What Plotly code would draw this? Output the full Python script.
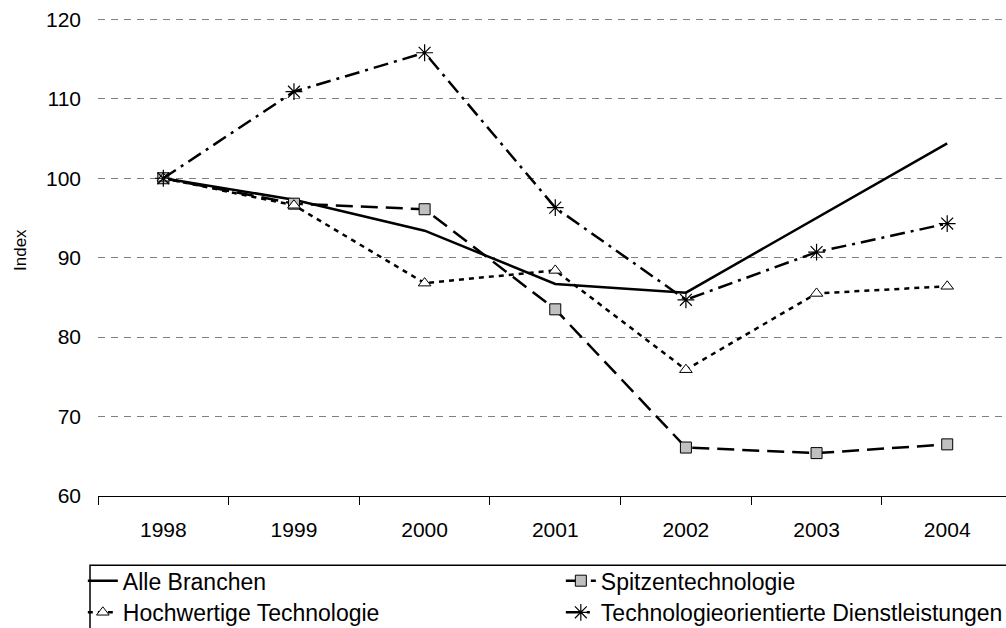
import plotly.graph_objects as go

years = ["1998", "1999", "2000", "2001", "2002", "2003", "2004"]
alle = [100, 97.3, 93.4, 86.7, 85.6, 95.0, 104.4]
spitzen = [100, 96.8, 96.1, 83.5, 66.1, 65.4, 66.5]
hochwertig = [100, 96.6, 86.8, 88.4, 75.9, 85.5, 86.4]
dienst = [100, 110.9, 115.8, 96.3, 84.7, 90.7, 94.3]

names = ["Alle Branchen", "Spitzentechnologie", "Hochwertige Technologie",
         "Technologieorientierte Dienstleistungen"]

FONT = "Liberation Sans, Arial, sans-serif"
fig = go.Figure()

fig.add_trace(go.Scatter(x=years, y=alle, name=names[0], mode="lines",
                         line=dict(color="black", width=2.5), legend="legend"))
fig.add_trace(go.Scatter(x=years, y=spitzen, name=names[1], mode="lines+markers",
                         line=dict(color="black", width=2.5, dash="17px,8px"),
                         marker=dict(symbol="square", size=11, color="#c0c0c0",
                                     line=dict(color="black", width=1)),
                         legend="legend"))
fig.add_trace(go.Scatter(x=years, y=hochwertig, name=names[2], mode="lines+markers",
                         line=dict(color="black", width=2.5, dash="5px,5px"),
                         marker=dict(symbol="triangle-up", size=11, color="white",
                                     line=dict(color="black", width=1)),
                         legend="legend2"))
fig.add_trace(go.Scatter(x=years, y=dienst, name=names[3], mode="lines+markers",
                         line=dict(color="black", width=2.5, dash="15px,6px,3px,6px"),
                         marker=dict(symbol="asterisk-open", size=14, color="black",
                                     line=dict(color="black", width=1.2)),
                         legend="legend2"))

LEGFONT = dict(family=FONT, size=23, color="black")
fig.update_layout(
    width=1006, height=628,
    margin=dict(l=98, r=0, t=17, b=132, autoexpand=False),
    paper_bgcolor="white", plot_bgcolor="white",
    font=dict(family=FONT, size=21, color="black"),
    showlegend=True,
    legend=dict(orientation="h", x=-0.0167, y=-0.132, xanchor="left", yanchor="top",
                font=LEGFONT, bgcolor="rgba(0,0,0,0)",
                entrywidth=433, entrywidthmode="pixels", itemwidth=30,
                borderwidth=0),
    legend2=dict(orientation="h", x=-0.0167, y=-0.198, xanchor="left", yanchor="top",
                 font=LEGFONT, bgcolor="rgba(0,0,0,0)",
                 entrywidth=433, entrywidthmode="pixels", itemwidth=30,
                 borderwidth=0),
    xaxis=dict(type="category", range=[-0.5, 6.45], tickson="boundaries",
               ticks="outside", ticklen=8, tickcolor="black",
               showline=True, linecolor="black", linewidth=1,
               showgrid=False, ticklabelstandoff=15,
               tickfont=dict(family=FONT, size=21)),
    yaxis=dict(range=[60, 120.3], dtick=10, showgrid=True, gridcolor="#808080",
               griddash="7px,6px", gridwidth=1, zeroline=False, showline=False,
               ticks="", ticklabelstandoff=16,
               tickfont=dict(family=FONT, size=21)),
)

fig.add_annotation(text="Index", xref="paper", yref="paper",
                   x=-0.0848, y=0.5136, textangle=-90, showarrow=False,
                   font=dict(family=FONT, size=17, color="black"),
                   xanchor="center", yanchor="middle")

fig.add_shape(type="rect", xref="paper", yref="paper",
              x0=-0.0088, x1=1.02, y0=-0.1447, y1=-0.30,
              line=dict(color="black", width=1.5), fillcolor="rgba(0,0,0,0)")

fig.write_html("out.html",
               config={"displayModeBar": False},
               post_script="document.body.style.margin='0';"
                           "document.body.style.overflow='hidden';")
